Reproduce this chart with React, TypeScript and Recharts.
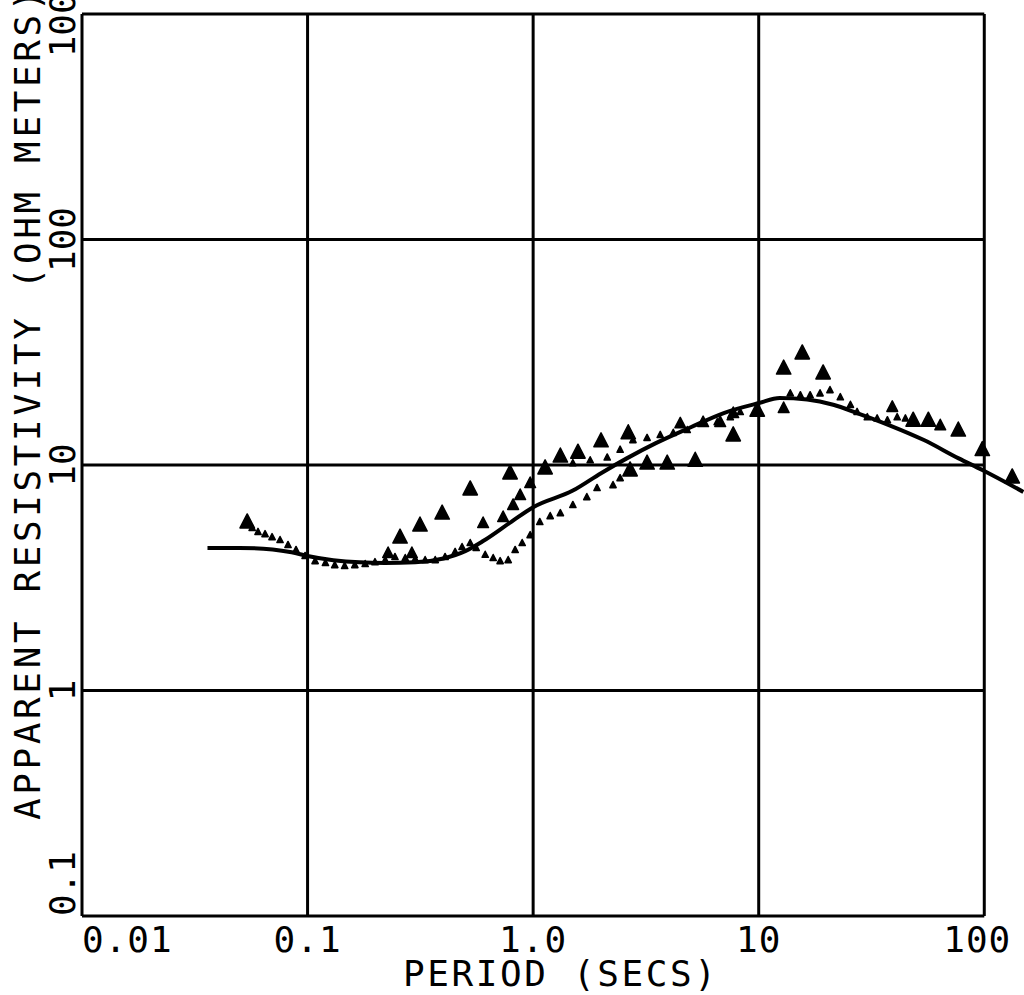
import React from "react";
import { ComposedChart, Line, Scatter, XAxis, YAxis, ReferenceLine, Label } from "recharts";

const FONT = '"DejaVu Sans Mono", "Liberation Mono", monospace';
const INK = "#000";

// axis decades and their printed labels
const xDecades = [0.01, 0.1, 1, 10, 100];
const xTickLabels = ["0.01", "0.1", "1.0", "10", "100"];
const yDecades = [0.1, 1, 10, 100, 1000];
const yTickLabels = ["0.1", "1", "10", "100", "1000"];

// model curve
const modelPeriod = [0.036, 0.05, 0.07, 0.085, 0.1, 0.13, 0.17, 0.22, 0.3, 0.4, 0.5, 0.6, 0.8, 1.0, 1.5, 2.0, 2.6, 3.5, 5.0, 7.0, 10, 12.4, 16.4, 21.4, 27.3, 38, 54, 77, 98, 149];
const modelRho = [4.29, 4.29, 4.22, 4.1, 3.95, 3.78, 3.7, 3.68, 3.7, 3.85, 4.15, 4.6, 5.6, 6.5, 7.7, 9.2, 10.7, 12.5, 14.7, 17.0, 18.8, 19.8, 19.5, 18.5, 17.0, 15.0, 12.9, 10.7, 9.5, 7.6];

// large triangles
const bigPeriod = [0.054, 0.257, 0.315, 0.395, 0.526, 0.79, 1.13, 1.32, 1.58, 2.0, 2.64, 2.69, 3.2, 3.93, 5.23, 7.71, 9.85, 12.9, 15.6, 19.3, 48.4, 56.5, 76.7, 98, 133];
const bigRho = [5.59, 4.79, 5.42, 6.12, 7.83, 9.22, 9.71, 10.96, 11.4, 12.8, 13.9, 9.51, 10.2, 10.2, 10.5, 13.6, 17.5, 26.9, 31.4, 25.6, 15.8, 15.8, 14.3, 11.7, 8.85];

// medium triangles
const midPeriod = [0.6, 0.736, 0.815, 0.876, 0.97, 0.2275, 0.29, 4.49, 5.67, 6.75, 7.71, 12.9, 39.1, 63.8];
const midRho = [5.53, 5.88, 6.65, 7.36, 8.32, 4.07, 4.07, 15.3, 15.5, 15.5, 17.0, 17.9, 18.1, 15.0];

// small dense marks
const smallPeriod = [
  0.0568, 0.0603, 0.0648, 0.0696, 0.0755, 0.0819, 0.0889, 0.0975, 0.108, 0.12, 0.132, 0.146, 0.162, 0.18, 0.199, 0.221, 0.244, 0.271, 0.3, 0.332, 0.368, 0.407, 0.451, 0.484, 0.526, 0.559, 0.613, 0.665, 0.714, 0.775,
  0.832, 0.894, 0.97, 1.07, 1.19, 1.32, 1.5, 1.73, 1.92, 2.26, 2.43,
  1.5, 1.79, 2.13, 2.43, 2.77, 3.2, 3.66, 4.18, 4.82, 5.67, 6.55, 7.48, 8.28,
  13.8, 15.3, 16.9, 18.7, 20.7, 23.0, 25.5, 27.3, 30.3, 33.5, 37.2, 41.1, 44.7,
];
const smallRho = [
  5.26, 5.05, 4.94, 4.79, 4.65, 4.42, 4.2, 3.95, 3.75, 3.68, 3.6, 3.57, 3.6, 3.64, 3.71, 3.79, 3.91, 3.87, 3.83, 3.79, 3.79, 3.91, 4.12, 4.33, 4.51, 4.29, 4.0, 3.87, 3.75, 3.79,
  4.2, 4.51, 4.89, 5.59, 5.94, 6.12, 6.65, 7.21, 7.91, 8.15, 8.75,
  10.2, 10.5, 10.8, 11.7, 12.9, 13.2, 13.6, 13.9, 14.3, 15.3, 15.5, 16.3, 17.2,
  20.8, 20.4, 20.4, 20.8, 21.5, 20.0, 18.5, 17.2, 16.3, 16.1, 15.8, 16.3, 16.1,
];

const zip = (xs: number[], ys: number[]) => xs.map((x, i) => ({ x, y: ys[i] }));
const modelData = zip(modelPeriod, modelRho);
const bigData = zip(bigPeriod, bigRho);
const midData = zip(midPeriod, midRho);
const smallData = zip(smallPeriod, smallRho);

const triangle = (r: number) => (props: any) => {
  const { cx, cy } = props;
  if (cx == null || cy == null) return null;
  return (
    <path
      d={`M${cx},${cy - r} L${cx + r * 0.9},${cy + r * 0.75} L${cx - r * 0.9},${cy + r * 0.75} Z`}
      fill={INK}
      stroke={INK}
      strokeWidth={1.5}
      strokeLinejoin="round"
    />
  );
};

function PeriodTick(props: any) {
  const { x, y, payload } = props;
  const i = xDecades.indexOf(payload.value);
  const tx = i === 4 ? x - 7 : x;
  return (
    <text x={tx} y={y + 36} textAnchor={i === 0 ? "start" : "middle"} fontFamily={FONT} fontSize={36} letterSpacing={1} fill={INK}>
      {xTickLabels[i]}
    </text>
  );
}

function RhoTick(props: any) {
  const { x, y, payload } = props;
  const i = yDecades.indexOf(payload.value);
  const bx = x - 7;
  return (
    <text x={bx} y={y} transform={`rotate(-90 ${bx} ${y})`} textAnchor={i === 0 ? "start" : "middle"} fontFamily={FONT} fontSize={36} fill={INK}>
      {yTickLabels[i]}
    </text>
  );
}

const gridV = xDecades.map((v) => [{ x: v, y: 0.1 }, { x: v, y: 1000 }]);
const gridH = yDecades.map((v) => [{ x: 0.01, y: v }, { x: 100, y: v }]);

export default function App() {
  return (
    <div style={{ position: "absolute", left: 0, top: 0, width: 1024, height: 995, background: "#fff", overflow: "hidden" }}>
      <ComposedChart width={1024} height={995} margin={{ top: 14, right: 0, bottom: 0, left: 0 }}>
        <XAxis
          dataKey="x"
          type="number"
          scale="log"
          domain={[0.01, 150]}
          allowDataOverflow
          ticks={xDecades}
          height={79}
          axisLine={false}
          tickLine={false}
          tickSize={0}
          tickMargin={0}
          tick={<PeriodTick />}
          interval={0}
        >
          <Label
            content={(p: any) => (
              <text x={p.viewBox.x + 321} y={p.viewBox.y + 70} fontFamily={FONT} fontSize={36} letterSpacing={2.6} fill={INK}>
                PERIOD (SECS)
              </text>
            )}
          />
        </XAxis>
        <YAxis
          dataKey="y"
          type="number"
          scale="log"
          domain={[0.1, 1000]}
          allowDataOverflow
          ticks={yDecades}
          width={82}
          axisLine={false}
          tickLine={false}
          tickSize={0}
          tickMargin={0}
          tick={<RhoTick />}
          interval={0}
        >
          <Label
            content={(p: any) => {
              const bx = p.viewBox.x + 40;
              const by = p.viewBox.y + 806;
              return (
                <text x={bx} y={by} transform={`rotate(-90 ${bx} ${by})`} fontFamily={FONT} fontSize={36} letterSpacing={3.6} fill={INK}>
                  APPARENT RESISTIVITY (OHM METERS)
                </text>
              );
            }}
          />
        </YAxis>
        {gridV.map((seg, i) => (
          <ReferenceLine key={`v${i}`} segment={seg} stroke={INK} strokeWidth={3} ifOverflow="visible" />
        ))}
        {gridH.map((seg, i) => (
          <ReferenceLine key={`h${i}`} segment={seg} stroke={INK} strokeWidth={3} ifOverflow="visible" />
        ))}
        <Line data={modelData} dataKey="y" type="monotone" stroke={INK} strokeWidth={4} dot={false} isAnimationActive={false} />
        <Scatter data={smallData} dataKey="y" shape={triangle(3.5)} isAnimationActive={false} />
        <Scatter data={midData} dataKey="y" shape={triangle(6)} isAnimationActive={false} />
        <Scatter data={bigData} dataKey="y" shape={triangle(8)} isAnimationActive={false} />
      </ComposedChart>
    </div>
  );
}
